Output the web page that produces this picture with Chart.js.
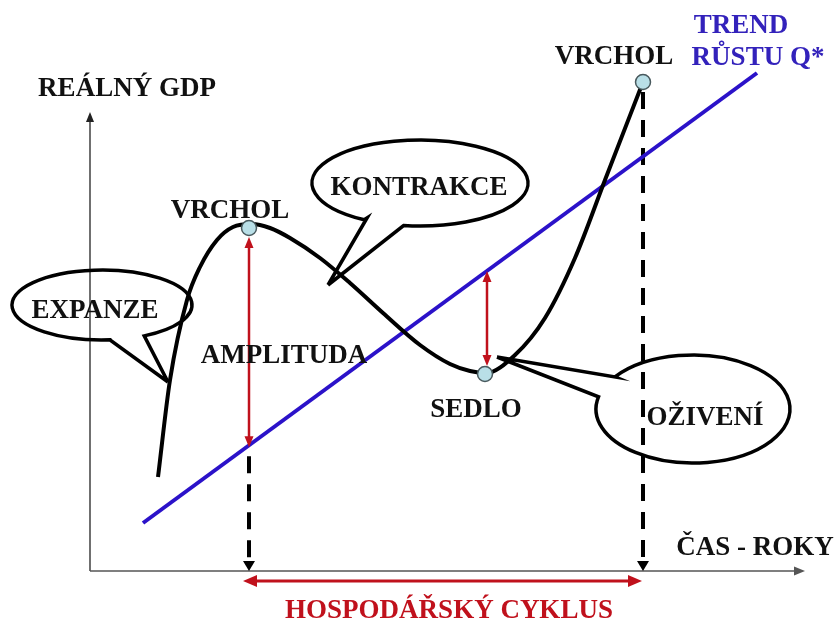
<!DOCTYPE html>
<html><head><meta charset="utf-8">
<script src="https://cdn.jsdelivr.net/npm/chart.js@4/dist/chart.umd.min.js"></script>
<style>html,body{margin:0;padding:0;background:#fff;overflow:hidden}canvas{display:block}</style>
</head><body>
<canvas id="c" width="835" height="621"></canvas>
<script>
// Real GDP over time (business cycle path)
const cycleTime = [6.8, 8.0, 9.7, 11.0, 12.7, 14.3, 16.2, 18.0, 20.0, 23.0, 26.0, 29.3, 33.0, 36.0, 38.0, 39.6, 42.5, 45.5, 48.5, 51.5, 55.3];
const realGdp   = [9.4, 19.1, 27.1, 30.4, 33.1, 34.4, 34.7, 34.3, 33.3, 31.3, 28.8, 25.8, 22.6, 20.7, 20.0, 19.8, 21.6, 25.3, 31.3, 39.1, 48.9];
// Trend of growth Q*
const trendTime = [5.3, 66.7];
const trendGdp  = [4.8, 49.8];
// Turning points: peak, trough, peak
const turnNames = ['VRCHOL', 'SEDLO', 'VRCHOL'];
const turnTime  = [15.9, 39.5, 55.3];
const turnGdp   = [34.3, 19.7, 48.9];
// Axis extents
const axisTimeEnd = 71.5;
const axisGdpEnd  = 45.9;

function trendAt(t) {
  const k = (trendGdp[1] - trendGdp[0]) / (trendTime[1] - trendTime[0]);
  return trendGdp[0] + k * (t - trendTime[0]);
}

const FONT = 'bold 27px "Liberation Serif", "Times New Roman", serif';
const RED = '#c0111c', BLUE_LINE = '#2b12c9', BLUE_TEXT = '#3322bb';

const labels = [
  { text: 'REÁLNÝ GDP', x: 3.7, y: 47.5, color: '#111' },
  { text: turnNames[0], x: 14.0, y: 35.3, color: '#111' },
  { text: 'KONTRAKCE', x: 32.9, y: 37.6, color: '#111' },
  { text: 'EXPANZE', x: 0.5, y: 25.3, color: '#111' },
  { text: 'AMPLITUDA', x: 19.4, y: 20.8, color: '#111' },
  { text: turnNames[1], x: 38.6, y: 15.4, color: '#111' },
  { text: 'OŽIVENÍ', x: 61.5, y: 14.6, color: '#111' },
  { text: turnNames[2], x: 52.4, y: 50.7, color: '#111' },
  { text: 'TREND', x: 65.1, y: 53.8, color: BLUE_TEXT },
  { text: 'RŮSTU Q*', x: 66.8, y: 50.6, color: BLUE_TEXT },
  { text: 'ČAS - ROKY', x: 66.5, y: 1.6, color: '#111' },
  { text: 'HOSPODÁŘSKÝ CYKLUS', x: 35.9, y: -4.7, color: RED }
];

const bubbles = [
  { cx: 1.2, cy: 26.6, rx: 9.0, ry: 3.5, a: [2.0, 23.1], b: [5.3, 23.6], tip: [7.8, 18.9] },
  { cx: 33.0, cy: 38.8, rx: 10.8, ry: 4.3, a: [27.7, 35.3], b: [31.3, 34.4], tip: [23.8, 28.6] },
  { cx: 60.3, cy: 16.2, rx: 9.7, ry: 5.4, a: [52.5, 19.4], b: [51.0, 17.4], tip: [40.7, 21.4] }
];

function arrowHead(ctx, tx, ty, dx, dy, len, hw, color) {
  const n = Math.hypot(dx, dy); dx /= n; dy /= n;
  const bx = tx - dx * len, by = ty - dy * len;
  ctx.beginPath();
  ctx.moveTo(tx, ty);
  ctx.lineTo(bx - dy * hw, by + dx * hw);
  ctx.lineTo(bx + dy * hw, by - dx * hw);
  ctx.closePath();
  ctx.fillStyle = color; ctx.fill();
}
function arrow(ctx, x1, y1, x2, y2, opt) {
  const dx = x2 - x1, dy = y2 - y1, n = Math.hypot(dx, dy);
  const ux = dx / n, uy = dy / n;
  let sx = x1, sy = y1, ex = x2, ey = y2;
  if (opt.start) { sx += ux * opt.len * 0.8; sy += uy * opt.len * 0.8; }
  if (opt.end) { ex -= ux * opt.len * 0.8; ey -= uy * opt.len * 0.8; }
  ctx.save();
  ctx.strokeStyle = opt.color; ctx.lineWidth = opt.width;
  ctx.setLineDash(opt.dash || []);
  ctx.beginPath(); ctx.moveTo(sx, sy); ctx.lineTo(ex, ey); ctx.stroke();
  ctx.setLineDash([]);
  if (opt.end) arrowHead(ctx, x2, y2, dx, dy, opt.len, opt.hw, opt.color);
  if (opt.start) arrowHead(ctx, x1, y1, -dx, -dy, opt.len, opt.hw, opt.color);
  ctx.restore();
}

const diagramPlugin = {
  id: 'diagram',
  beforeDatasetsDraw(chart) {
    const ctx = chart.ctx, X = v => chart.scales.x.getPixelForValue(v), Y = v => chart.scales.y.getPixelForValue(v);
    // axes
    arrow(ctx, X(0), Y(0), X(0), Y(axisGdpEnd), { color: '#222', width: 1.3, end: true, len: 10, hw: 4 });
    arrow(ctx, X(0), Y(0), X(axisTimeEnd), Y(0), { color: '#555', width: 1.6, end: true, len: 11, hw: 4.5 });
    // dashed drop lines from the peaks to the time axis
    arrow(ctx, X(turnTime[0]), Y(trendAt(turnTime[0])) + 11, X(turnTime[0]), Y(0), { color: '#000', width: 4, end: true, len: 10, hw: 6, dash: [17, 11] });
    arrow(ctx, X(turnTime[2]), Y(turnGdp[2]) + 10, X(turnTime[2]), Y(0), { color: '#000', width: 4, end: true, len: 10, hw: 6, dash: [17, 11] });
  },
  afterDatasetsDraw(chart) {
    const ctx = chart.ctx, X = v => chart.scales.x.getPixelForValue(v), Y = v => chart.scales.y.getPixelForValue(v);
    // amplitude arrow (peak to trend)
    arrow(ctx, X(turnTime[0]), Y(turnGdp[0]) + 9, X(turnTime[0]), Y(trendAt(turnTime[0])) + 2, { color: RED, width: 2.5, start: true, end: true, len: 11, hw: 4.5 });
    // deviation arrow at trough (trend to trough)
    const tx = turnTime[1] + 0.2;
    arrow(ctx, X(tx), Y(trendAt(tx)), X(tx), Y(turnGdp[1]) - 8, { color: RED, width: 2.5, start: true, end: true, len: 11, hw: 4.5 });
    // business cycle length arrow
    arrow(ctx, X(turnTime[0]) - 6, Y(-1.0), X(turnTime[2]) - 1, Y(-1.0), { color: RED, width: 3, start: true, end: true, len: 14, hw: 6 });
    // speech bubbles
    ctx.save();
    ctx.strokeStyle = '#000'; ctx.lineWidth = 3.5; ctx.lineJoin = 'miter';
    bubbles.forEach(b => {
      const cx = X(b.cx), cy = Y(b.cy), rx = X(b.cx + b.rx) - cx, ry = cy - Y(b.cy + b.ry);
      const ax = X(b.a[0]), ay = Y(b.a[1]), bx = X(b.b[0]), by = Y(b.b[1]);
      const angA = Math.atan2((ay - cy) / ry, (ax - cx) / rx);
      const angB = Math.atan2((by - cy) / ry, (bx - cx) / rx);
      let d = angB - angA;
      while (d > Math.PI) d -= 2 * Math.PI;
      while (d <= -Math.PI) d += 2 * Math.PI;
      ctx.beginPath();
      ctx.moveTo(X(b.tip[0]), Y(b.tip[1]));
      ctx.lineTo(ax, ay);
      ctx.ellipse(cx, cy, rx, ry, 0, angA, angB, d > 0);
      ctx.lineTo(X(b.tip[0]), Y(b.tip[1]));
      ctx.stroke();
    });
    ctx.restore();
    // text labels
    ctx.save();
    ctx.font = FONT; ctx.textAlign = 'center'; ctx.textBaseline = 'alphabetic';
    labels.forEach(l => { ctx.fillStyle = l.color; ctx.fillText(l.text, X(l.x), Y(l.y)); });
    ctx.restore();
  }
};

const toXY = (xs, ys) => xs.map((x, i) => ({ x, y: ys[i] }));

new Chart(document.getElementById('c'), {
  type: 'line',
  data: {
    datasets: [
      { label: 'Body obratu', data: toXY(turnTime, turnGdp), showLine: false, pointRadius: 7.5, pointBackgroundColor: '#b9dfe7', pointBorderColor: '#48595d', pointBorderWidth: 1.5, order: 0 },
      { label: 'Reálný GDP', data: toXY(cycleTime, realGdp), borderColor: '#000', borderWidth: 4, pointRadius: 0, cubicInterpolationMode: 'monotone', fill: false, order: 1 },
      { label: 'Trend růstu Q*', data: toXY(trendTime, trendGdp), borderColor: BLUE_LINE, borderWidth: 4, pointRadius: 0, fill: false, order: 2 }
    ]
  },
  options: {
    responsive: false, animation: false, devicePixelRatio: 1, events: [],
    layout: { padding: 0, autoPadding: false },
    plugins: { legend: { display: false }, tooltip: { enabled: false }, title: { display: false } },
    scales: {
      x: { type: 'linear', display: false, min: -9.0, max: 74.5 },
      y: { type: 'linear', display: false, min: -5.0, max: 57.1 }
    }
  },
  plugins: [diagramPlugin]
});
</script>
</body></html>
